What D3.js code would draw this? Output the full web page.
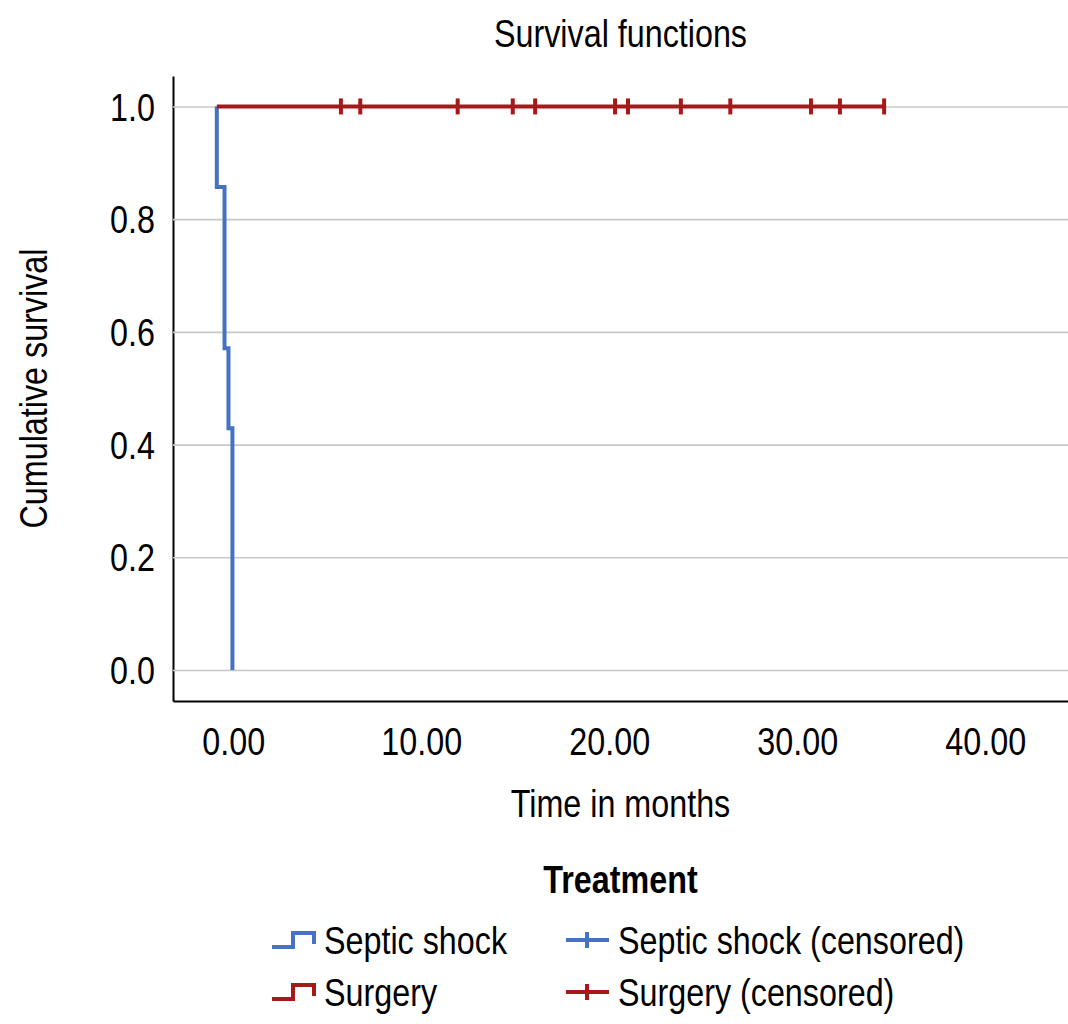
<!DOCTYPE html>
<html>
<head>
<meta charset="utf-8">
<script src="https://cdn.jsdelivr.net/npm/d3@7"></script>
<style>
  body { margin: 0; background: #fff; }
  text { font-family: "Liberation Sans", Arial, sans-serif; fill: #000; font-size: 38px; }
</style>
</head>
<body>
<div id="chart"></div>
<script>
// survival steps
const septicStart = -0.87;
const septicEventTimes = [-0.87, -0.46, -0.25, -0.04];
const septicSurvival = [0.857, 0.571, 0.429, 0.0];
const septicCensored = [];

const surgeryStart = -0.87;
const surgeryEventTimes = [];
const surgerySurvival = [];
const surgeryCensored = [5.73, 6.76, 11.94, 14.87, 16.06, 20.31, 21.0, 23.81, 26.44, 30.73, 32.27, 34.62];

const xTicks = [0, 10, 20, 30, 40];
const yTicks = [0, 0.2, 0.4, 0.6, 0.8, 1.0];

const groups = ['Septic shock', 'Surgery'];
const colors = ['#4672c4', '#a71919'];

const W = 1068, H = 1024;
const margin = { top: 76, right: 0, bottom: 323, left: 173 };
const width = W - margin.left - margin.right;
const height = H - margin.top - margin.bottom;
const SX = 0.85; // narrow face: squeeze Liberation Sans sideways

const svg = d3.select('#chart').append('svg')
    .attr('width', W)
    .attr('height', H);

function addText(x0, y0, str, anchor, extra) {
  const t = svg.append('text')
      .attr('transform', `translate(${x0},${y0}) scale(${SX},1)`)
      .attr('text-anchor', anchor || 'start')
      .text(str);
  if (extra) extra(t);
  return t;
}

const x = d3.scaleLinear().domain([-3.2, 44.4]).range([margin.left, margin.left + width]);
const y = d3.scaleLinear().domain([-0.055, 1.054]).range([margin.top + height, margin.top]);

// y axis with gridlines
const yAxis = svg.append('g')
    .attr('transform', `translate(${margin.left},0)`)
    .call(d3.axisLeft(y).tickValues(yTicks).tickFormat(d3.format('.1f')).tickSize(-width).tickSizeOuter(0));
yAxis.select('.domain').attr('stroke', '#000').attr('stroke-width', 2);
yAxis.selectAll('.tick line').attr('stroke', '#c8c8c8').attr('stroke-width', 1.6);
yAxis.selectAll('.tick text')
    .attr('x', 0).attr('dy', '0.36em')
    .attr('transform', `translate(-18,0) scale(${SX},1)`);
yAxis.attr('font-family', null).attr('font-size', null);

// x axis
const xAxis = svg.append('g')
    .attr('transform', `translate(0,${margin.top + height})`)
    .call(d3.axisBottom(x).tickValues(xTicks).tickFormat(d3.format('.2f')).tickSize(0).tickSizeOuter(0));
xAxis.select('.domain').attr('stroke', '#000').attr('stroke-width', 2);
xAxis.selectAll('.tick text')
    .attr('y', 0).attr('dy', 0)
    .attr('transform', `translate(0,54) scale(${SX},1)`);
xAxis.attr('font-family', null).attr('font-size', null);

const line = d3.line()
    .x(d => x(d[0]))
    .y(d => y(d[1]))
    .curve(d3.curveStepAfter);

function stepPoints(start, times, surv, censored) {
  const pts = [[start, 1]];
  times.forEach((t, i) => pts.push([t, surv[i]]));
  const last = pts[pts.length - 1][1];
  const maxC = censored.length ? d3.max(censored) : null;
  if (maxC !== null && maxC > pts[pts.length - 1][0]) pts.push([maxC, last]);
  return pts;
}

function survAt(t, start, times, surv) {
  let s = 1;
  times.forEach((tt, i) => { if (tt <= t) s = surv[i]; });
  return s;
}

const series = [
  { start: septicStart, times: septicEventTimes, surv: septicSurvival, cens: septicCensored },
  { start: surgeryStart, times: surgeryEventTimes, surv: surgerySurvival, cens: surgeryCensored }
];

series.forEach((s, i) => {
  svg.append('path')
      .attr('d', line(stepPoints(s.start, s.times, s.surv, s.cens)))
      .attr('fill', 'none')
      .attr('stroke', colors[i])
      .attr('stroke-width', 4);

  svg.append('g').selectAll('line')
    .data(s.cens)
    .join('line')
      .attr('x1', d => x(d)).attr('x2', d => x(d))
      .attr('y1', d => y(survAt(d, s.start, s.times, s.surv)) - 8)
      .attr('y2', d => y(survAt(d, s.start, s.times, s.surv)) + 8)
      .attr('stroke', colors[i])
      .attr('stroke-width', 4);
});

// titles
const cx = margin.left + width / 2;
addText(cx, 47, 'Survival functions', 'middle');
addText(cx, 817, 'Time in months', 'middle');
svg.append('text')
    .attr('transform', `translate(47,${margin.top + height / 2}) rotate(-90) scale(${SX},1)`)
    .attr('text-anchor', 'middle')
    .text('Cumulative survival');

// legend
addText(cx, 893, 'Treatment', 'middle', t => t.style('font-weight', 'bold'));

const rowY = [940, 992];
groups.forEach((g, i) => {
  const yy = rowY[i];
  svg.append('path')
      .attr('d', `M272,${yy + 7}H293V${yy - 7}H314V${yy + 4}`)
      .attr('fill', 'none')
      .attr('stroke', colors[i])
      .attr('stroke-width', 4);
  addText(324, yy + 14, g);

  svg.append('line')
      .attr('x1', 566).attr('x2', 609).attr('y1', yy).attr('y2', yy)
      .attr('stroke', colors[i]).attr('stroke-width', 4);
  svg.append('line')
      .attr('x1', 587).attr('x2', 587).attr('y1', yy - 8).attr('y2', yy + 8)
      .attr('stroke', colors[i]).attr('stroke-width', 4);
  addText(618, yy + 14, g + ' (censored)');
});
</script>
</body>
</html>
